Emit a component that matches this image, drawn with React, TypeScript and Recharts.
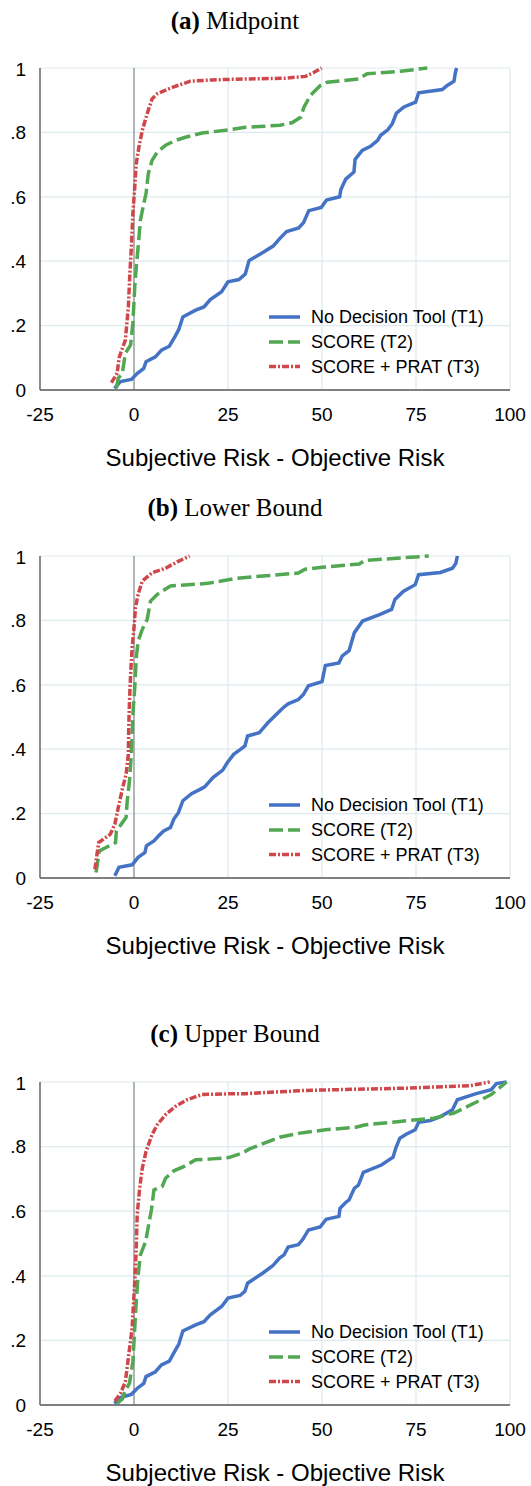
import { CartesianGrid, Line, LineChart, ReferenceLine, XAxis, YAxis } from "recharts";

type Pt = [number, number];

/* ── data ────────────────────────────────────────────────── */

const X_TICKS = [-25, 0, 25, 50, 75, 100];
const Y_TICKS = [0, 0.2, 0.4, 0.6, 0.8, 1];
const SERIES_NAMES = ["No Decision Tool (T1)", "SCORE (T2)", "SCORE + PRAT (T3)"];
const PANEL_TITLES: [string, string][] = [
  ["(a)", "Midpoint"],
  ["(b)", "Lower Bound"],
  ["(c)", "Upper Bound"],
];
const X_LABEL = "Subjective Risk - Objective Risk";

// (a) Midpoint
const midT1: Pt[] = [
  [-5.2, 0.005], [-3.6, 0.026], [-0.7, 0.033], [0.9, 0.052], [2.6, 0.067], [3.2, 0.088],
  [5.7, 0.103], [7.3, 0.124], [9.4, 0.136], [11.0, 0.168], [11.9, 0.188], [13.0, 0.227],
  [16.4, 0.248], [18.6, 0.258], [20.3, 0.281], [23.3, 0.305], [25.0, 0.336], [27.9, 0.343],
  [29.6, 0.36], [30.6, 0.402], [34.7, 0.43], [37.0, 0.447], [38.8, 0.471], [40.6, 0.492],
  [43.8, 0.503], [45.1, 0.52], [46.5, 0.557], [49.8, 0.567], [51.2, 0.59], [54.7, 0.6],
  [55.0, 0.622], [56.3, 0.655], [58.5, 0.677], [58.8, 0.716], [60.7, 0.744], [62.9, 0.757],
  [64.8, 0.775], [65.6, 0.791], [67.5, 0.808], [68.7, 0.827], [69.8, 0.86], [71.8, 0.879],
  [74.9, 0.894], [75.7, 0.923], [82.0, 0.933], [83.3, 0.946], [85.1, 0.959], [85.5, 0.987],
  [85.8, 1.0],
];
const midT2: Pt[] = [
  [-4.7, 0.005], [-4.2, 0.036], [-3.1, 0.052], [-2.3, 0.114], [-0.9, 0.14], [-0.3, 0.207],
  [0.2, 0.32], [0.6, 0.382], [1.1, 0.444], [1.7, 0.527], [2.6, 0.579], [3.2, 0.61],
  [3.8, 0.672], [4.8, 0.713], [6.2, 0.739], [8.4, 0.76], [11.0, 0.775], [13.7, 0.785],
  [18.1, 0.798], [25.2, 0.808], [29.7, 0.816], [38.8, 0.822], [42.0, 0.83], [44.3, 0.847],
  [45.2, 0.878], [46.9, 0.915], [49.5, 0.945], [51.4, 0.956], [59.8, 0.966], [62.0, 0.982],
  [70.9, 0.99], [78.0, 1.0],
];
const midT3: Pt[] = [
  [-6.0, 0.023], [-4.5, 0.052], [-3.9, 0.103], [-2.3, 0.155], [-1.5, 0.258], [-1.1, 0.362],
  [-0.7, 0.444], [-0.3, 0.548], [0.2, 0.63], [0.6, 0.703], [1.3, 0.754], [2.2, 0.806],
  [3.5, 0.858], [4.8, 0.904], [6.2, 0.92], [10.2, 0.94], [15.0, 0.959], [20.8, 0.963],
  [29.7, 0.966], [40.0, 0.968], [45.6, 0.974], [47.8, 0.986], [49.9, 1.0],
];

// (b) Lower Bound
const lowT1: Pt[] = [
  [-5.1, 0.007], [-4.0, 0.033], [-0.5, 0.041], [1.1, 0.064], [2.9, 0.079], [3.3, 0.1],
  [5.3, 0.115], [6.8, 0.134], [7.9, 0.146], [9.7, 0.157], [10.6, 0.183], [11.8, 0.203],
  [13.0, 0.24], [15.3, 0.262], [17.7, 0.276], [18.8, 0.283], [21.0, 0.312], [23.6, 0.335],
  [24.8, 0.358], [26.5, 0.384], [28.4, 0.4], [29.5, 0.41], [30.2, 0.441], [33.3, 0.451],
  [35.6, 0.482], [38.3, 0.513], [39.6, 0.528], [41.0, 0.541], [43.7, 0.554], [45.0, 0.569],
  [46.4, 0.597], [50.0, 0.61], [50.9, 0.66], [54.5, 0.668], [55.4, 0.69], [57.2, 0.706],
  [58.6, 0.762], [60.8, 0.798], [65.3, 0.818], [68.5, 0.834], [69.4, 0.865], [71.6, 0.89],
  [74.8, 0.911], [75.7, 0.942], [81.5, 0.949], [84.7, 0.962], [85.6, 0.977], [86.0, 1.0],
];
const lowT2: Pt[] = [
  [-10.1, 0.017], [-9.2, 0.084], [-4.9, 0.11], [-4.7, 0.146], [-3.1, 0.172], [-2.1, 0.188],
  [-1.8, 0.24], [-1.2, 0.302], [-0.7, 0.384], [-0.3, 0.508], [0.2, 0.591], [0.6, 0.684],
  [1.1, 0.736], [2.2, 0.772], [3.5, 0.803], [4.4, 0.86], [6.2, 0.881], [9.7, 0.907],
  [19.6, 0.915], [27.5, 0.931], [43.7, 0.947], [45.5, 0.959], [50.0, 0.965], [59.9, 0.975],
  [61.3, 0.986], [78.4, 1.0],
];
const lowT3: Pt[] = [
  [-10.4, 0.027], [-9.4, 0.11], [-6.3, 0.136], [-5.1, 0.167], [-4.0, 0.229], [-3.0, 0.281],
  [-2.1, 0.322], [-1.5, 0.384], [-1.4, 0.467], [-1.2, 0.55], [-0.9, 0.633], [-0.5, 0.715],
  [0.0, 0.777], [0.4, 0.84], [1.1, 0.881], [2.2, 0.922], [4.8, 0.948], [8.4, 0.962],
  [11.5, 0.982], [14.8, 1.0],
];

// (c) Upper Bound
const upT1: Pt[] = [
  [-5.2, 0.005], [-3.6, 0.023], [-0.7, 0.033], [0.9, 0.052], [2.6, 0.067], [3.2, 0.088],
  [5.7, 0.103], [7.3, 0.124], [9.4, 0.136], [11.0, 0.17], [11.9, 0.188], [13.0, 0.229],
  [16.4, 0.248], [18.6, 0.258], [20.3, 0.279], [23.3, 0.305], [25.0, 0.331], [28.2, 0.339],
  [29.5, 0.352], [30.2, 0.377], [34.2, 0.408], [36.9, 0.431], [38.7, 0.455], [39.9, 0.465],
  [41.0, 0.489], [43.7, 0.496], [44.9, 0.513], [46.4, 0.542], [49.5, 0.551], [51.1, 0.575],
  [54.5, 0.584], [54.8, 0.609], [56.3, 0.627], [57.2, 0.635], [58.6, 0.671], [59.7, 0.681],
  [61.0, 0.72], [65.8, 0.743], [68.9, 0.767], [69.6, 0.795], [70.7, 0.826], [72.5, 0.839],
  [74.8, 0.852], [75.7, 0.875], [78.8, 0.881], [81.5, 0.893], [84.7, 0.914], [86.0, 0.945],
  [91.0, 0.964], [95.0, 0.976], [96.4, 0.995], [99.1, 1.0],
];
const upT2: Pt[] = [
  [-4.5, 0.005], [-3.1, 0.019], [-2.3, 0.046], [-1.2, 0.067], [-0.3, 0.134], [0.2, 0.238],
  [0.6, 0.32], [1.1, 0.403], [1.7, 0.465], [3.1, 0.506], [3.9, 0.558], [4.7, 0.609],
  [5.3, 0.666], [7.5, 0.677], [8.4, 0.702], [10.6, 0.725], [13.2, 0.738], [16.4, 0.759],
  [20.8, 0.762], [25.2, 0.766], [28.8, 0.78], [30.6, 0.792], [38.7, 0.829], [43.7, 0.841],
  [50.9, 0.852], [59.0, 0.86], [61.3, 0.867], [70.7, 0.878], [79.7, 0.888], [85.1, 0.904],
  [92.3, 0.945], [95.0, 0.961], [99.1, 1.0],
];
const upT3: Pt[] = [
  [-5.1, 0.012], [-3.6, 0.036], [-2.3, 0.072], [-1.4, 0.155], [-0.5, 0.238], [0.2, 0.382],
  [0.6, 0.486], [0.85, 0.589], [1.5, 0.671], [2.2, 0.733], [3.2, 0.785], [4.8, 0.837],
  [6.2, 0.868], [8.4, 0.899], [11.0, 0.924], [14.1, 0.945], [18.0, 0.961], [23.5, 0.963],
  [29.7, 0.964], [45.5, 0.974], [72.5, 0.981], [89.6, 0.989], [94.6, 1.0],
];

const PANEL_SERIES: Pt[][][] = [
  [midT1, midT2, midT3],
  [lowT1, lowT2, lowT3],
  [upT1, upT2, upT3],
];

/* ── styling / layout ────────────────────────────────────── */

const SANS = "'Liberation Sans', Arial, sans-serif";
const SERIF = "'Liberation Serif', 'Times New Roman', serif";

const LINE_STYLES = [
  { color: "#4472C4", dash: undefined as string | undefined, width: 3.5 },
  { color: "#52A852", dash: "14 5", width: 3.5 },
  { color: "#D0474B", dash: "7 2 2 2", width: 3.5 },
];

// absolute page positions of each panel's plot area
const LAYOUT = [
  { titleY: 29, top: 68, bottom: 390 },
  { titleY: 516, top: 556, bottom: 878 },
  { titleY: 1042, top: 1082, bottom: 1405 },
];

const PAGE_W = 531;
const PAGE_H = 1486;
const PLOT_LEFT = 40;
const PLOT_RIGHT = 510;
const LEGEND_ROWS = [-73, -48, -23.5];

const toRows = (pts: Pt[]) => pts.map(([x, y]) => ({ x, y }));

const fmtY = (v: number) => (v === 0 ? "0" : v === 1 ? "1" : String(v).replace(/^0/, ""));

function Panel({ index }: { index: number }) {
  const { top, bottom } = LAYOUT[index];
  const plotH = bottom - top;
  const height = plotH + 10 + 40;
  return (
    <div style={{ position: "absolute", left: 0, top: top - 10 }}>
      <LineChart
        width={PAGE_W}
        height={height}
        margin={{ top: 10, right: PAGE_W - PLOT_RIGHT, bottom: 10, left: 0 }}
      >
        <CartesianGrid stroke="#DDE9EC" strokeWidth={1.2} />
        <XAxis
          type="number"
          dataKey="x"
          domain={[-25, 100]}
          ticks={X_TICKS}
          allowDataOverflow
          height={30}
          tickLine={false}
          tickSize={0}
          tickMargin={18}
          axisLine={{ stroke: "#5a5a5a", strokeWidth: 1.5 }}
          tick={{ fill: "#000", fontSize: 19, fontFamily: SANS }}
        />
        <YAxis
          type="number"
          domain={[0, 1]}
          ticks={Y_TICKS}
          width={PLOT_LEFT}
          tickLine={false}
          tickSize={0}
          tickMargin={14}
          tickFormatter={fmtY}
          axisLine={{ stroke: "#6a6a6a", strokeWidth: 1.5 }}
          tick={{ fill: "#000", fontSize: 19, fontFamily: SANS }}
        />
        <ReferenceLine x={0} stroke="#8c8c8c" strokeWidth={1.2} />
        {PANEL_SERIES[index].map((pts, i) => (
          <Line
            key={SERIES_NAMES[i]}
            data={toRows(pts)}
            dataKey="y"
            name={SERIES_NAMES[i]}
            type="linear"
            stroke={LINE_STYLES[i].color}
            strokeWidth={LINE_STYLES[i].width}
            strokeDasharray={LINE_STYLES[i].dash}
            dot={false}
            activeDot={false}
            isAnimationActive={false}
          />
        ))}
      </LineChart>
    </div>
  );
}

function Overlay() {
  return (
    <svg
      width={PAGE_W}
      height={PAGE_H}
      style={{ position: "absolute", left: 0, top: 0, pointerEvents: "none" }}
    >
      {LAYOUT.map((l, p) => (
        <g key={p}>
          <text x={235} y={l.titleY} textAnchor="middle" fontFamily={SERIF} fontSize={25} fill="#000">
            <tspan fontWeight="bold">{PANEL_TITLES[p][0]}</tspan>
            <tspan> {PANEL_TITLES[p][1]}</tspan>
          </text>
          <text
            x={(PLOT_LEFT + PLOT_RIGHT) / 2}
            y={l.bottom + 76}
            textAnchor="middle"
            fontFamily={SANS}
            fontSize={24}
            fill="#000"
          >
            {X_LABEL}
          </text>
          {SERIES_NAMES.map((name, i) => {
            const y = l.bottom + LEGEND_ROWS[i];
            return (
              <g key={name}>
                <line
                  x1={269}
                  x2={300}
                  y1={y}
                  y2={y}
                  stroke={LINE_STYLES[i].color}
                  strokeWidth={LINE_STYLES[i].width}
                  strokeDasharray={LINE_STYLES[i].dash}
                />
                <text x={311} y={y} dy="0.35em" fontFamily={SANS} fontSize={18} fill="#000">
                  {name}
                </text>
              </g>
            );
          })}
        </g>
      ))}
    </svg>
  );
}

export default function App() {
  return (
    <div
      style={{
        position: "absolute",
        left: 0,
        top: 0,
        width: PAGE_W,
        height: PAGE_H,
        background: "#fff",
        overflow: "hidden",
      }}
    >
      {LAYOUT.map((_, i) => (
        <Panel key={i} index={i} />
      ))}
      <Overlay />
    </div>
  );
}
